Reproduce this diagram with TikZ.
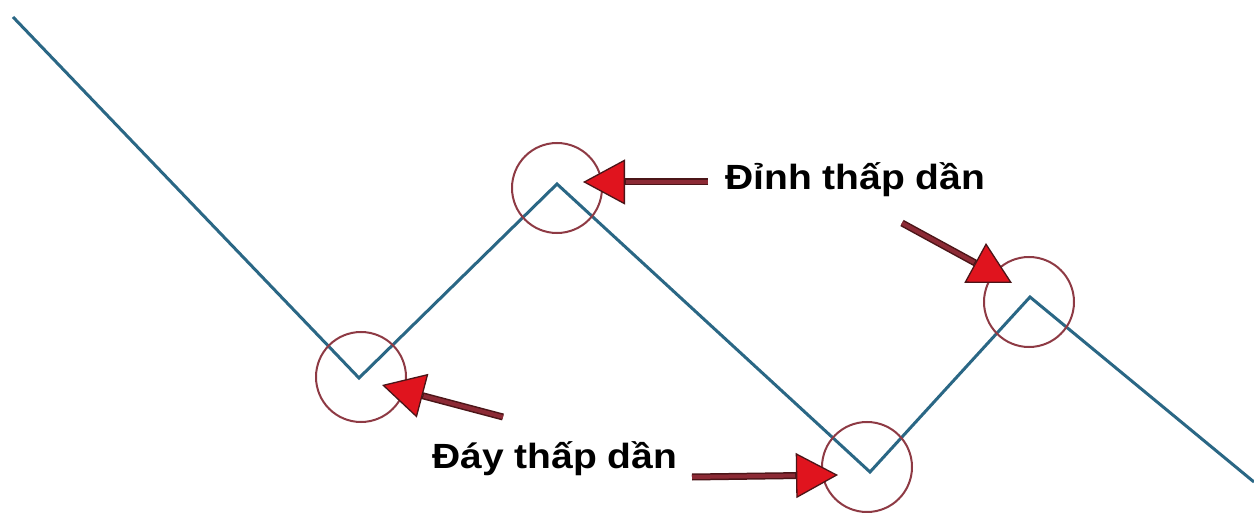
\documentclass[tikz,border=0pt]{standalone}
\usepackage{fontspec}
\setmainfont{Liberation Sans}
\usetikzlibrary{arrows.meta}
\definecolor{teal1}{HTML}{2A6785}
\definecolor{ringred}{HTML}{8E3A44}
\definecolor{headred}{HTML}{E0141E}
\definecolor{shaftred}{HTML}{8C2A35}
\definecolor{shaftdark}{HTML}{4B1518}
\tikzset{
  zig/.style={draw=teal1, line width=3pt, line join=miter},
  ring/.style={circle, draw=ringred, line width=2pt, minimum size=90pt, inner sep=0pt},
  arrowouter/.style={line width=7pt, draw=shaftdark, -{Triangle[length=42pt,width=45pt,fill=headred,line width=1.3pt]}},
  arrowinner/.style={line width=4pt, draw=shaftred, shorten >=43pt},
  lbl/.style={font=\fontsize{35}{40}\selectfont\bfseries, inner sep=0pt, anchor=base west}
}
\begin{document}
\begin{tikzpicture}[x=1pt,y=-1pt]
\useasboundingbox (0,0) rectangle (1254,513);
\fill[white] (0,0) rectangle (1254,513);
% zigzag points
\coordinate (p0) at (13,17);
\coordinate (p1) at (359,378);
\coordinate (p2) at (557,184);
\coordinate (p3) at (870,472);
\coordinate (p4) at (1030,297);
\coordinate (p5) at (1254,482);
\draw[zig] (p0) -- (p1) -- (p2) -- (p3) -- (p4) -- (p5);
% circles
\node[ring] (c1) at (361,377) {};
\node[ring] (c2) at (557,188) {};
\node[ring] (c3) at (867,467) {};
\node[ring] (c4) at (1029,302) {};
% labels
\node[lbl] (top) at (725,190) {\scalebox{1.115}[1]{Đỉnh thấp dần}};
\node[lbl] (bot) at (432,468) {\scalebox{1.115}[1]{Đáy thấp dần}};
% arrow endpoints
\coordinate (a1s) at (708,182); \coordinate (a1t) at (583,182);
\coordinate (a2s) at (503,417); \coordinate (a2t) at (382,385);
\coordinate (a3s) at (692,477); \coordinate (a3t) at (838,475);
\coordinate (a4s) at (902,223); \coordinate (a4t) at (1012,283);
\foreach \i in {1,2,3,4}{
  \draw[arrowouter] (a\i s) -- (a\i t);
  \draw[arrowinner] (a\i s) -- (a\i t);
}
\end{tikzpicture}
\end{document}
